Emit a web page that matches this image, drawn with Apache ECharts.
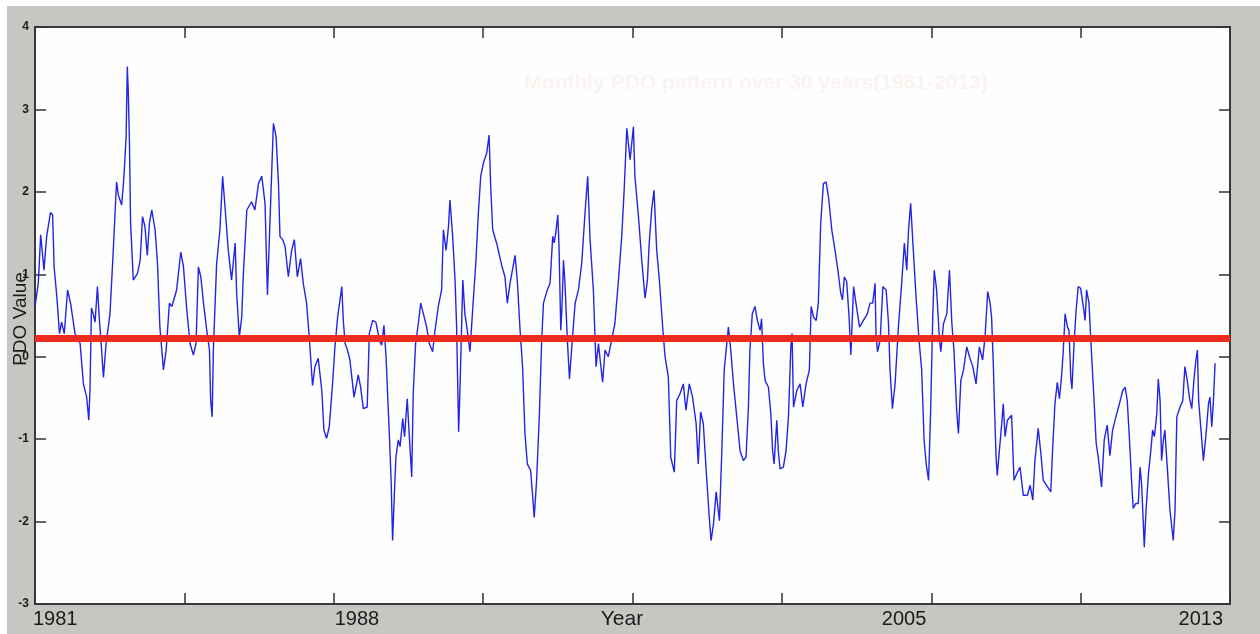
<!DOCTYPE html>
<html>
<head>
<meta charset="utf-8">
<script src="https://cdn.jsdelivr.net/npm/echarts@6/dist/echarts.min.js"></script>
<style>
html,body{margin:0;padding:0;background:#ffffff;}
#chart{width:1260px;height:634px;}
</style>
</head>
<body>
<div id="chart"></div>
<script>
// Month index since Jan 1981 and PDO value
const months = [
0,1.1,1.9,2.6,3.0,3.9,5.2,5.9,6.4,7.3,8.2,8.9,9.8,10.9,11.9,13.4,15.1,16.2,17.3,18.0,18.4,18.9,19.5,20.1,20.9,21.5,22.3,22.9,23.8,25.1,26.2,27.3,27.9,29.0,29.6,29.9,30.5,30.9,31.2,31.6,32.0,32.9,34.3,35.2,36.0,36.8,37.6,38.3,39.1,40.2,41.0,41.8,43.0,43.9,45.0,45.8,47.4,48.8,49.7,50.8,51.9,53.0,53.9,54.7,55.5,56.4,57.5,58.4,58.8,59.3,59.7,60.8,61.9,62.8,63.6,64.7,65.8,67.0,67.5,68.4,69.2,69.7,70.9,72.5,73.6,74.8,75.9,77.0,77.8,78.4,79.8,
80.0,80.7,81.5,82.0,82.9,83.7,84.8,85.9,86.8,87.8,88.9,89.8,90.9,91.8,92.9,93.7,94.8,96.0,96.7,97.6,98.5,99.6,100.4,101.3,101.9,102.7,103.2,103.8,104.6,105.4,106.8,108.2,109.0,109.9,111.2,111.9,113.0,114.1,115.3,116.0,116.8,117.5,118.6,119.2,119.7,120.3,120.8,121.6,122.2,123.1,123.7,124.6,125.3,126.1,126.6,127.4,128.3,129.1,130.0,131.1,132.0,133.1,133.9,135.0,136.1,136.7,137.6,138.4,138.9,139.8,140.6,141.1,141.8,142.3,143.2,143.9,144.7,145.6,146.5,147.6,148.4,149.2,150.1,151.2,152.0,152.5,153.2,154.5,156.2,157.3,158.1,159.0,
160.7,161.5,162.3,163.2,164.0,164.8,165.9,166.6,167.1,167.9,168.8,169.6,170.2,171.3,172.4,173.3,173.8,174.3,175.0,175.4,176.0,176.4,176.9,177.4,178.2,178.9,179.6,180.8,181.9,183.0,184.1,185.0,185.8,186.9,187.8,188.6,189.3,190.0,190.8,191.9,193.0,194.1,195.3,196.4,197.2,198.1,199.2,200.3,200.8,202.0,203.1,204.2,205.0,205.6,206.4,207.2,208.1,209.0,210.1,210.9,212.0,212.8,214.0,214.8,215.9,217.0,217.9,219.0,220.1,221.3,222.0,222.8,223.7,224.8,225.7,226.3,227.1,228.0,229.1,229.9,230.7,232.1,232.9,233.8,234.9,236.0,237.1,238.0,238.8,239.3,240.1,241.0,
241.8,242.7,243.2,243.8,244.4,245.5,246.3,246.9,247.4,248.3,248.8,249.4,250.5,251.4,252.2,253.0,253.4,253.9,255.0,256.1,257.0,258.1,259.2,259.8,260.6,261.5,262.2,263.0,263.9,264.8,265.6,266.7,267.8,268.9,269.7,270.3,270.9,271.7,272.5,273.1,274.0,274.8,276.0,277.3,278.6,279.5,280.4,281.2,281.5,282.0,282.9,283.8,284.9,285.7,286.2,287.0,287.9,289.0,290.1,291.0,291.8,292.4,293.1,294.0,294.9,296.0,296.8,297.6,298.3,299.1,299.8,300.5,301.0,301.8,302.7,303.2,304.1,305.2,306.1,306.9,307.6,308.5,309.1,309.9,310.8,311.9,312.8,313.9,315.0,316.1,317.2,318.0,318.9,319.7,320.2,
320.8,321.1,321.7,322.1,322.8,323.6,324.1,324.7,325.5,326.1,326.9,327.7,328.6,329.7,330.8,332.2,333.1,334.0,334.7,335.8,336.6,337.5,338.6,340.0,340.6,341.4,342.2,342.9,343.7,344.2,344.8,345.6,346.1,346.7,347.1,347.8,348.5,349.2,350.0,350.9,351.5,352.0,352.8,353.7,354.5,355.2,355.9,357.0,357.9,358.9,359.8,360.7,361.8,363.0,364.1,364.9,365.6,366.3,367.1,367.6,368.5,369.3,369.9,370.4,371.0,371.3,371.9,372.7,373.5,374.1,374.7,375.5,376.0,376.6,377.1,377.7,378.2,379.0,379.9,381.0,381.6,382.2,383.3,384.2,384.9,385.7,386.4,387.2,388.0,388.6,389.1,389.5,390.2,391.1,392.0,392.8,393.3,393.9,394.4,395.0
];
const pdoValues = [
0.61,0.89,1.48,1.21,1.05,1.46,1.75,1.72,1.09,0.73,0.28,0.42,0.28,0.81,0.65,0.28,0.16,-0.33,-0.49,-0.77,-0.41,0.59,0.52,0.42,0.85,0.48,0.08,-0.25,0.16,0.52,1.29,2.12,1.96,1.84,2.10,2.27,2.67,3.52,3.24,2.63,1.62,0.93,1.01,1.17,1.70,1.58,1.23,1.62,1.78,1.54,1.13,0.36,-0.16,0.08,0.65,0.61,0.81,1.27,1.09,0.57,0.16,0.02,0.16,1.09,0.97,0.65,0.32,0.08,-0.53,-0.73,0.08,1.13,1.54,2.19,1.82,1.29,0.93,1.38,0.77,0.24,0.48,0.97,1.78,1.88,1.78,2.10,2.19,1.86,0.75,1.38,2.83,
2.83,2.67,2.10,1.46,1.42,1.34,0.97,1.29,1.42,0.97,1.19,0.89,0.65,0.24,-0.35,-0.12,-0.02,-0.41,-0.89,-0.99,-0.85,-0.33,0.12,0.48,0.46,0.85,0.44,0.16,0.08,-0.04,-0.49,-0.22,-0.37,-0.63,-0.61,0.28,0.44,0.42,0.20,0.14,0.38,0.00,-0.93,-1.50,-2.23,-1.66,-1.22,-1.01,-1.09,-0.75,-0.97,-0.51,-0.97,-1.46,-0.45,0.16,0.40,0.65,0.52,0.36,0.16,0.06,0.32,0.61,0.81,1.54,1.29,1.58,1.90,1.46,0.93,0.40,-0.91,-0.33,0.93,0.52,0.32,0.06,0.57,1.17,1.74,2.19,2.35,2.47,2.69,2.10,1.54,1.38,1.11,0.97,0.65,0.89,
1.23,0.89,0.36,-0.12,-0.93,-1.30,-1.38,-1.70,-1.95,-1.50,-0.73,0.20,0.65,0.79,0.89,1.46,1.38,1.50,1.72,1.34,0.32,0.61,1.17,0.89,0.20,-0.27,0.08,0.65,0.81,1.13,1.74,2.19,1.42,0.81,-0.12,0.16,-0.08,-0.31,0.08,0.00,0.20,0.40,0.93,1.46,2.02,2.77,2.39,2.79,2.19,1.70,1.17,0.71,0.93,1.38,1.78,2.02,1.29,0.93,0.36,0.00,-0.25,-1.22,-1.40,-0.53,-0.45,-0.33,-0.65,-0.33,-0.49,-0.81,-1.30,-0.67,-0.81,-1.46,-1.95,-2.23,-2.03,-1.64,-1.99,-1.14,-0.16,0.36,0.08,-0.33,-0.73,-1.14,-1.26,-1.22,-0.61,0.08,0.52,0.61,
0.44,0.32,0.46,-0.08,-0.29,-0.37,-0.69,-1.14,-1.30,-0.77,-1.14,-1.36,-1.34,-1.14,-0.73,0.12,0.28,-0.61,-0.41,-0.33,-0.61,-0.33,-0.16,0.61,0.48,0.44,0.65,1.62,2.10,2.12,1.94,1.54,1.29,1.01,0.77,0.69,0.97,0.91,0.48,0.02,0.85,0.65,0.36,0.44,0.52,0.65,0.65,0.89,0.28,0.06,0.20,0.85,0.81,0.40,-0.16,-0.63,-0.33,0.36,0.89,1.38,1.05,1.54,1.86,1.29,0.73,0.16,-0.16,-1.01,-1.30,-1.50,-0.65,0.48,1.05,0.81,0.24,0.06,0.40,0.52,1.05,0.40,0.08,-0.65,-0.93,-0.29,-0.16,0.12,0.00,-0.12,-0.33,0.12,-0.04,0.24,0.79,0.65,0.48,
-0.12,-0.53,-1.22,-1.44,-1.14,-0.81,-0.57,-0.97,-0.77,-0.77,-0.71,-1.50,-1.42,-1.34,-1.68,-1.68,-1.56,-1.74,-1.26,-0.87,-1.14,-1.50,-1.56,-1.64,-1.14,-0.57,-0.31,-0.51,-0.20,0.08,0.52,0.36,0.32,-0.25,-0.39,0.16,0.57,0.85,0.83,0.61,0.44,0.81,0.65,0.00,-0.53,-1.05,-1.22,-1.58,-1.01,-0.83,-1.20,-0.89,-0.73,-0.57,-0.41,-0.37,-0.53,-0.97,-1.54,-1.84,-1.78,-1.78,-1.34,-1.54,-2.03,-2.31,-1.86,-1.42,-1.14,-0.89,-0.97,-0.69,-0.27,-0.53,-1.26,-1.01,-0.89,-1.34,-1.86,-2.23,-1.86,-0.73,-0.61,-0.53,-0.12,-0.29,-0.49,-0.63,-0.25,-0.04,0.08,-0.53,-0.85,-1.26,-0.93,-0.57,-0.49,-0.85,-0.57,-0.08
];
const referenceLevel = 0.22;
const yearLabelMonths = [0, 100, 300, 400];
const yearLabelTexts = ['1981', '1988', '2005', '2013'];
const yTickMin = -3, yTickMax = 4, yTickStep = 1;
const xTickMin = 0, xTickMax = 400, xTickStep = 50;
const titleText = 'Monthly PDO pattern over 30 years(1981-2013)';
const xAxisTitle = 'Year';
const yAxisTitle = 'PDO Value';

const FONT = '"Liberation Sans", Arial, Helvetica, sans-serif';
const chart = echarts.init(document.getElementById('chart'), null, {renderer: 'canvas'});
const seriesData = months.map((m, i) => [m, pdoValues[i]]);

const tickStyle = {show: true, inside: true, length: 11, lineStyle: {color: '#333', width: 1.5}};
const hiddenLine = {show: false, onZero: false};
const option = {
  animation: false,
  backgroundColor: '#c6c6c2',
  grid: {left: 35, top: 27, right: 30, bottom: 30, show: true, backgroundColor: '#fdfefd', borderColor: '#3a3a3a', borderWidth: 2},
  xAxis: [
    {type: 'value', min: xTickMin, max: xTickMax, interval: xTickStep, position: 'bottom',
     axisLine: hiddenLine, axisTick: tickStyle, axisLabel: {show: false}, splitLine: {show: false}},
    {type: 'value', min: xTickMin, max: xTickMax, interval: xTickStep, position: 'top',
     axisLine: hiddenLine, axisTick: tickStyle, axisLabel: {show: false}, splitLine: {show: false}}
  ],
  yAxis: [
    {type: 'value', min: yTickMin, max: yTickMax, interval: yTickStep, position: 'left',
     axisLine: hiddenLine, axisTick: tickStyle, splitLine: {show: false},
     axisLabel: {show: true, margin: 6, fontSize: 12, color: '#1a1a1a', fontFamily: FONT, fontWeight: 'bold'}},
    {type: 'value', min: yTickMin, max: yTickMax, interval: yTickStep, position: 'right',
     axisLine: hiddenLine, axisTick: tickStyle, splitLine: {show: false}, axisLabel: {show: false}}
  ],
  series: [{
    type: 'line', data: seriesData, xAxisIndex: 0, yAxisIndex: 0,
    showSymbol: false, symbol: 'none', smooth: false,
    lineStyle: {color: '#2424e6', width: 1.4},
    z: 2,
    markLine: {
      silent: true, symbol: 'none', animation: false,
      label: {show: false},
      lineStyle: {color: '#ee2b1c', width: 7, type: 'solid'},
      data: [{yAxis: referenceLevel}],
      z: 5
    }
  }]
};
chart.setOption(option);

function placeTexts() {
  const bottomY = chart.convertToPixel({yAxisIndex: 0}, yTickMin);
  const aligns = ['left', 'left', 'right', 'right'];
  const offsets = [-2, 1, -5, -7];
  const elements = [
    {type: 'rect', shape: {x: 0, y: 0, width: 1260, height: 6}, style: {fill: '#ffffff'}, z: -10, silent: true},
    {type: 'rect', shape: {x: 0, y: 0, width: 7, height: 634}, style: {fill: '#ffffff'}, z: -10, silent: true}
  ];
  yearLabelMonths.forEach((m, i) => {
    const px = chart.convertToPixel({xAxisIndex: 0}, m);
    elements.push({type: 'text', x: px + offsets[i], y: bottomY + 15, silent: true,
      style: {text: yearLabelTexts[i], fill: '#1a1a1a', font: '20px ' + FONT, align: aligns[i], verticalAlign: 'middle'}});
  });
  elements.push({type: 'text', x: 622, y: bottomY + 15, silent: true,
    style: {text: xAxisTitle, fill: '#1a1a1a', font: '21px ' + FONT, align: 'center', verticalAlign: 'middle'}});
  elements.push({type: 'text', x: 21, y: 319, rotation: Math.PI / 2, silent: true,
    style: {text: yAxisTitle, fill: '#1a1a1a', font: '19px ' + FONT, align: 'center', verticalAlign: 'middle'}});
  elements.push({type: 'text', x: 756, y: 83, silent: true, z: 1,
    style: {text: titleText, fill: '#faf3f1', font: 'bold 21px ' + FONT, align: 'center', verticalAlign: 'middle'}});
  chart.setOption({graphic: {elements: elements}});
}
placeTexts();
</script>
</body>
</html>
